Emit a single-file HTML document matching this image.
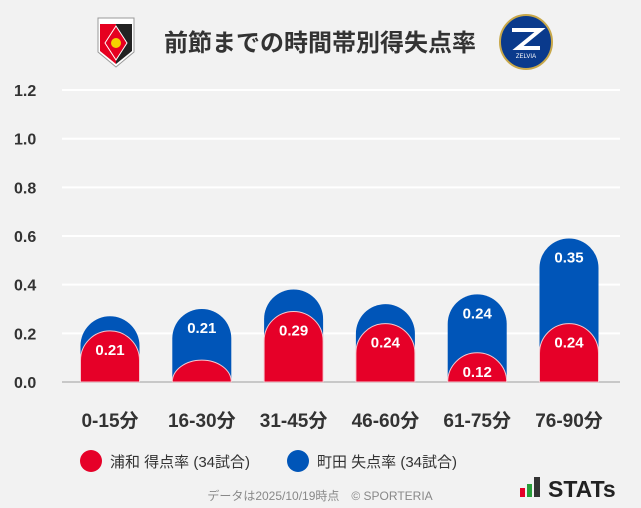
<!DOCTYPE html>
<html><head><meta charset="utf-8"><style>
body{margin:0;background:#f2f2f2;}
svg{display:block;font-family:"Liberation Sans","Noto Sans CJK JP",sans-serif;}
</style></head><body>
<svg width="641" height="508" viewBox="0 0 641 508">
<rect width="641" height="508" fill="#f2f2f2"/>
<g>
<path d="M98 18 H134 V52 L116 67 L98 52 Z" fill="#fff" stroke="#999" stroke-width="1"/>
<path d="M100 24 H116 V64 L100 51 Z" fill="#e60020"/>
<path d="M116 24 H132 V51 L116 64 Z" fill="#222"/>
<path d="M116 26 L127 43 L116 60 L105 43 Z" fill="#e60020" stroke="#fff" stroke-width="1"/>
<circle cx="116" cy="43" r="5" fill="#f5d000"/>
</g>
<text x="320" y="51" text-anchor="middle" font-size="24" font-weight="bold" fill="#333">前節までの時間帯別得失点率</text>
<g>
<ellipse cx="526" cy="42" rx="26" ry="27" fill="#0a3a8c" stroke="#c8a84a" stroke-width="2"/>
<path d="M512 30 H540 L518 48 H540" fill="none" stroke="#fff" stroke-width="4"/>
<text x="526" y="58" text-anchor="middle" font-size="6" fill="#fff">ZELVIA</text>
</g>
<g id="grid"></g>
<g id="yticks"></g>
<line x1="62" y1="382" x2="620" y2="382" stroke="#c8c8c8" stroke-width="2"/>
<g id="bars"></g>
<g id="xlabels"></g>
<g>
<g><circle cx="91" cy="461" r="11" fill="#e60028"/>
<text x="110" y="467" font-size="15" fill="#333">浦和 得点率 (34試合)</text></g>
<g><circle cx="298" cy="461" r="11" fill="#0055b8"/>
<text x="317" y="467" font-size="15" fill="#333">町田 失点率 (34試合)</text></g>
</g>
<text x="320" y="500" text-anchor="middle" font-size="12" fill="#888">データは2025/10/19時点　© SPORTERIA</text>
<g>
<rect x="520" y="488" width="5" height="9" fill="#e60028"/><rect x="527" y="484" width="5" height="13" fill="#2a9d3a"/><rect x="534" y="477" width="6" height="20" fill="#333"/>
<text x="548" y="497" font-size="23" font-weight="bold" fill="#222">STATs</text>
</g>
</svg>
<script>
const categories=["0-15分","16-30分","31-45分","46-60分","61-75分","76-90分"];
const urawaValues=[0.21,0.09,0.29,0.24,0.12,0.24];
const machidaValues=[0.06,0.21,0.09,0.08,0.24,0.35];
const yTicks=[0,0.2,0.4,0.6,0.8,1.0,1.2];
const NS="http://www.w3.org/2000/svg";
const y0=382,pxPer=243.3,x0=110,step=91.8,bw=59;
const yS=v=>y0-v*pxPer, xS=i=>x0+i*step;
function mk(t,a,p){const e=document.createElementNS(NS,t);for(const k in a)e.setAttribute(k,a[k]);p.appendChild(e);return e;}
const grid=document.getElementById('grid'),yt=document.getElementById('yticks'),bars=document.getElementById('bars'),xl=document.getElementById('xlabels');
yTicks.forEach(v=>{
 if(v>0){const l=mk('line',{x1:62,x2:620,y1:yS(v),y2:yS(v),stroke:'#fff','stroke-width':2},grid);
 
 }
 const t=mk('text',{x:14,y:yS(v)+6,'font-size':16,'font-weight':'bold',fill:'#333'},yt);
 t.textContent=v.toFixed(1);
 
 
});
function cap(cx,top,fill,stroke,p){
 const h=y0-top,r=bw/2,ry=Math.min(r,h),l=cx-r,rr=cx+r;
 return mk('path',{d:`M${l} ${y0} V${top+ry} A${r} ${ry} 0 0 1 ${rr} ${top+ry} V${y0} Z`,fill:fill,stroke:stroke,'stroke-width':stroke=='none'?0:1},p);
}
function lab(x,y,v){const t=mk('text',{x:x,y:y,'text-anchor':'middle','font-size':15,'font-weight':'bold',fill:'#fff'},bars);
 t.textContent=v.toFixed(2);
 
 }
categories.forEach((c,i)=>{
 const cx=xS(i),tot=urawaValues[i]+machidaValues[i];
 const b=cap(cx,yS(tot),'#0055b8','none',bars);
 
 
 const r=cap(cx,yS(urawaValues[i]),'#e60028','#f4c8cf',bars);
 
 
 if(machidaValues[i]>=0.1)lab(cx,yS(tot)+24,machidaValues[i]);
 if(urawaValues[i]>=0.1)lab(cx,yS(urawaValues[i])+24,urawaValues[i]);
 const t=mk('text',{x:cx,y:427,'text-anchor':'middle','font-size':19,'font-weight':'bold',fill:'#333'},xl);
 t.textContent=c;
 
 
});
</script>
</body></html>
